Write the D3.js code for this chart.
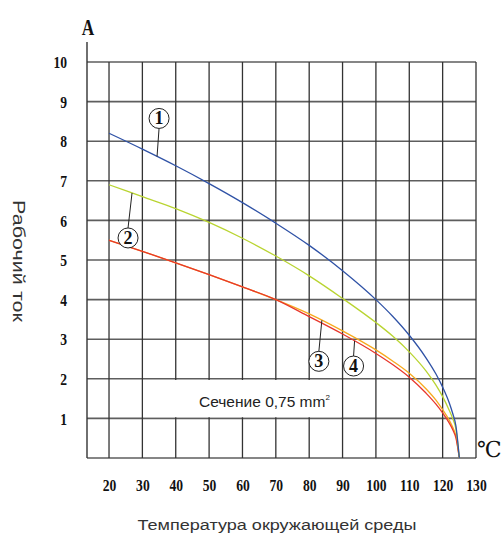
<!DOCTYPE html>
<html><head><meta charset="utf-8">
<script src="https://cdn.jsdelivr.net/npm/d3@7"></script>
<style>body{margin:0;background:#fff}</style>
</head><body>
<svg id="c" width="501" height="537"></svg>
<script>
const temps   = [20,30,40,50,60,70,80,90,100,105,110,115,118,120,122,123,124,125];
const curve1  = [8.2,7.8,7.38,6.93,6.45,5.93,5.37,4.73,4.0,3.58,3.1,2.53,2.12,1.79,1.39,1.13,0.8,0];
const curve2  = [6.9,6.6,6.3,5.95,5.55,5.1,4.6,4.03,3.42,3.08,2.68,2.2,1.84,1.55,1.2,1.0,0.72,0];
const curve3  = [5.5,5.22,4.93,4.63,4.32,4.0,3.64,3.21,2.73,2.45,2.14,1.75,1.46,1.22,0.95,0.78,0.55,0];
const curve4  = [5.5,5.22,4.93,4.63,4.32,4.0,3.57,3.13,2.64,2.36,2.04,1.64,1.36,1.14,0.88,0.72,0.5,0];
const xTicks  = [20,30,40,50,60,70,80,90,100,110,120,130];
const yTicks  = [1,2,3,4,5,6,7,8,9,10];
const labels  = ["1","2","3","4"];
const labelAt = [34.4, 26.9, 83.8, 93.6];   // temperature where each leader touches its curve
const section = "Сечение 0,75 mm";
const xTitle  = "Температура окружающей среды";
const yTitle  = "Рабочий ток";
const yUnit   = "A";
const xUnit   = "℃";

const svg = d3.select("#c");
const x = d3.scaleLinear().domain([13.4,130]).range([87,476]);
const y = d3.scaleLinear().domain([0,10]).range([458,62]);

const g = svg.append("g");
// horizontal grid
g.selectAll("line.h").data([0].concat(yTicks)).join("line")
  .attr("x1",x(13.4)).attr("x2",x(130))
  .attr("y1",d=>y(d)).attr("y2",d=>y(d))
  .attr("stroke","#5e5e5e").attr("stroke-width",1.6);
// vertical grid
g.selectAll("line.v").data(xTicks).join("line")
  .attr("x1",d=>x(d)).attr("x2",d=>x(d))
  .attr("y1",y(10)).attr("y2",y(0))
  .attr("stroke","#333").attr("stroke-width",1.3);
// y axis line
g.append("line").attr("x1",x(13.4)).attr("x2",x(13.4)).attr("y1",42).attr("y2",y(0))
  .attr("stroke","#333").attr("stroke-width",1.4);

// white box for section label
g.append("rect").attr("x",x(30)+1).attr("y",y(2)+1.2)
  .attr("width",x(90)-x(30)-2).attr("height",y(1)-y(2)-2.4).attr("fill","#fff");
const st = g.append("text").attr("x",199).attr("y",407)
  .attr("font-family","Liberation Sans, Arial, sans-serif").attr("font-size",15.5).attr("fill","#222")
  .text(section);
st.append("tspan").attr("font-size",8).attr("dy",-7).text("2");

// x tick labels via axis
const xa = svg.append("g").attr("transform",`translate(0,${y(0)})`)
  .call(d3.axisBottom(x).tickValues(xTicks).tickSize(0).tickFormat(d3.format("d")));
xa.select(".domain").remove();
xa.selectAll("text").attr("y",33).attr("dy",0)
  .attr("font-family","Liberation Serif, Times New Roman, serif").attr("font-weight","bold")
  .attr("font-size",17).attr("fill","#111").attr("transform","scale(0.8,1)");
// y tick labels via axis
const ya = svg.append("g").attr("transform",`translate(67,0)`)
  .call(d3.axisLeft(y).tickValues(yTicks).tickSize(0).tickPadding(0).tickFormat(d3.format("d")));
ya.select(".domain").remove();
ya.selectAll("text").attr("dy","0.33em")
  .attr("font-family","Liberation Serif, Times New Roman, serif").attr("font-weight","bold")
  .attr("font-size",17).attr("fill","#111").attr("transform","scale(0.8,1)");

// curves
const line = d3.line().x((d,i)=>x(temps[i])).y(d=>y(d)).curve(d3.curveMonotoneX);
const series = [
  {v:curve3, c:"#f7aa1e"},
  {v:curve4, c:"#e8372c"},
  {v:curve2, c:"#b9d431"},
  {v:curve1, c:"#2f52a6"}
];
svg.selectAll("path.s").data(series).join("path")
  .attr("d",d=>line(d.v)).attr("fill","none").attr("stroke",d=>d.c).attr("stroke-width",1.3);

// annotations
const interp = (arr,t)=>{
  for(let i=0;i<temps.length-1;i++){
    if(t>=temps[i]&&t<=temps[i+1]){const f=(t-temps[i])/(temps[i+1]-temps[i]);return arr[i]+f*(arr[i+1]-arr[i]);}
  }
  return arr[arr.length-1];
};
const annCurves = [curve1,curve2,curve3,curve4];
const annOff = [[2,-38],[-4,45],[-3,41],[-1,25]];
labels.forEach((lab,i)=>{
  const ax = x(labelAt[i]), ay = y(interp(annCurves[i],labelAt[i]));
  const cx = ax+annOff[i][0], cy = ay+annOff[i][1];
  const dir = Math.sign(annOff[i][1]);
  svg.append("line").attr("x1",ax).attr("y1",ay).attr("x2",cx).attr("y2",cy-dir*10)
    .attr("stroke","#222").attr("stroke-width",1);
  svg.append("circle").attr("cx",cx).attr("cy",cy).attr("r",10)
    .attr("fill","#fff").attr("stroke","#222").attr("stroke-width",1);
  svg.append("text").attr("x",cx).attr("y",cy+6).attr("text-anchor","middle")
    .attr("font-family","Liberation Serif, serif").attr("font-weight","bold").attr("font-size",18)
    .attr("fill","#111").text(lab);
});

// units
svg.append("text").attr("transform","translate(88,35) scale(0.75,1)").attr("text-anchor","middle")
  .attr("font-family","Liberation Serif, serif").attr("font-weight","bold").attr("font-size",23)
  .attr("fill","#111").text(yUnit);
svg.append("text").attr("x",477).attr("y",457)
  .attr("font-family","DejaVu Serif, serif").attr("font-size",22)
  .attr("fill","#111").text(xUnit);

// titles
svg.append("text").attr("transform","translate(13,261) rotate(90)").attr("text-anchor","middle")
  .attr("font-family","Liberation Sans, Arial, sans-serif").attr("font-size",16).attr("fill","#333")
  .attr("textLength",122).attr("lengthAdjust","spacingAndGlyphs").text(yTitle);
svg.append("text").attr("x",277).attr("y",530).attr("text-anchor","middle")
  .attr("font-family","Liberation Sans, Arial, sans-serif").attr("font-size",15.5).attr("fill","#333")
  .attr("textLength",279).attr("lengthAdjust","spacingAndGlyphs").text(xTitle);
</script>
</body></html>
